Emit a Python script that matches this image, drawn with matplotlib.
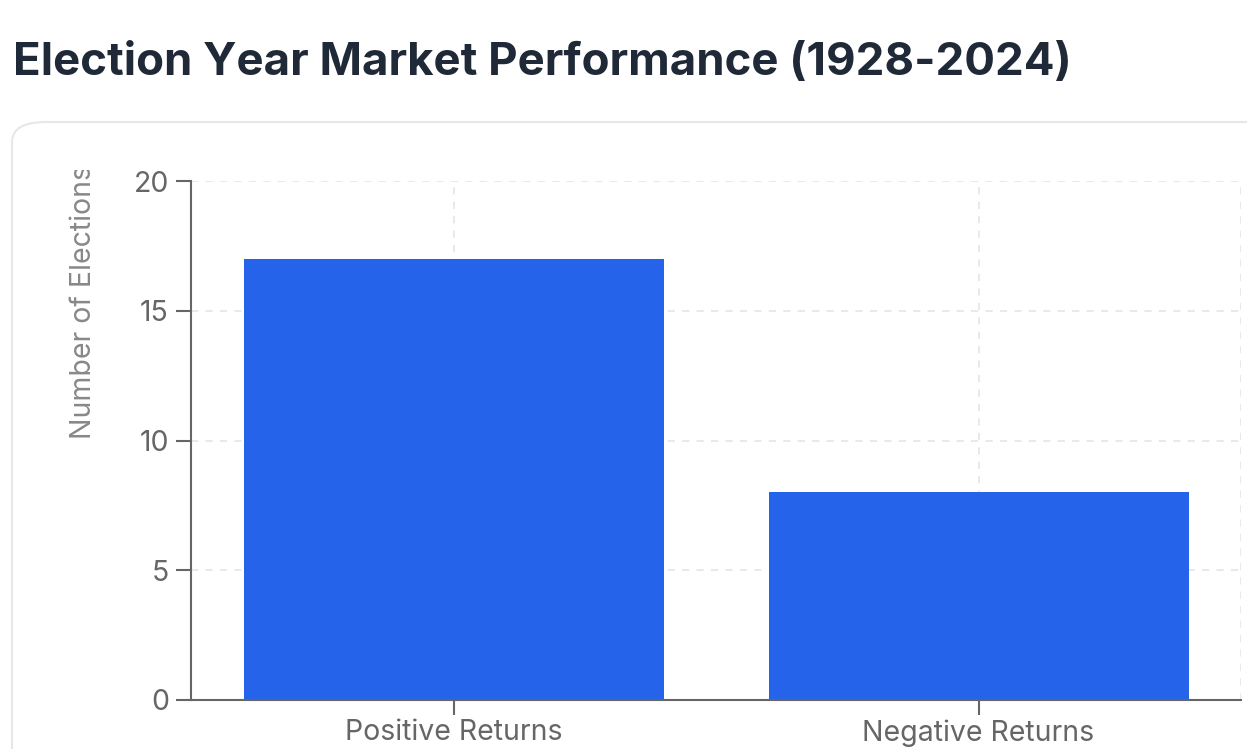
import matplotlib
matplotlib.use('Agg')
import matplotlib.pyplot as plt
from matplotlib.patches import FancyBboxPatch
from matplotlib.transforms import Bbox, TransformedBbox

categories = ['Positive Returns', 'Negative Returns']
counts = [17, 8]
y_ticks = [0, 5, 10, 15, 20]

plt.rcParams['font.family'] = ['Inter', 'DejaVu Sans']

W, H = 1247, 749
fig = plt.figure(figsize=(W / 100, H / 100), dpi=100)

# card outline behind the chart
card = FancyBboxPatch((12 / W, -0.2), 1.2, (749 - 122) / H + 0.2,
                      boxstyle='round,pad=0,rounding_size=0.027',
                      transform=fig.transFigure, facecolor='none',
                      edgecolor='#e5e7eb', linewidth=1.5, zorder=0)
fig.patches.append(card)

fig.text(13 / W, (749 - 75) / H, 'Election Year Market Performance (1928-2024)',
         fontsize=32.8, fontweight='bold', color='#1f2937', ha='left', va='baseline')

ax = fig.add_axes([191 / W, (749 - 700) / H, (1241 - 191) / W, (700 - 181) / H])
ax.set_facecolor('none')
ax.set_zorder(2)

ax.bar(range(len(categories)), counts, width=0.8, color='#2563eb', zorder=3)

ax.set_xlim(-0.5, len(categories) - 0.5)
ax.set_ylim(0, 20)
ax.set_yticks(y_ticks)
ax.set_xticks(range(len(categories)))
ax.set_xticklabels(categories)

grid_kw = dict(color='#e5e7eb', linewidth=1.3, linestyle=(0, (4, 4)), zorder=1)
for y in y_ticks[1:]:
    ax.axhline(y, **grid_kw)
for x in range(len(categories)):
    ax.axvline(x, **grid_kw)
ax.axvline(len(categories) - 0.5, **grid_kw)

for s in ['top', 'right']:
    ax.spines[s].set_visible(False)
for s in ['left', 'bottom']:
    ax.spines[s].set_color('#666666')
    ax.spines[s].set_linewidth(1.5)
    ax.spines[s].set_zorder(4)

ax.tick_params(axis='both', colors='#666666', labelcolor='#666666',
               labelsize=20.5, length=11, width=1.5)
ax.tick_params(axis='y', pad=5)
ax.tick_params(axis='x', pad=3)

ylab = fig.text(84 / W, (749 - 439) / H, 'Number of Elections', rotation=90,
                fontsize=20.5, color='#888888', ha='center', va='bottom')
ylab.set_clip_on(True)
ylab.set_clip_box(TransformedBbox(Bbox([[0, 0], [1, (749 - 170) / H]]), fig.transFigure))

fig.savefig('out.png', dpi=100)
